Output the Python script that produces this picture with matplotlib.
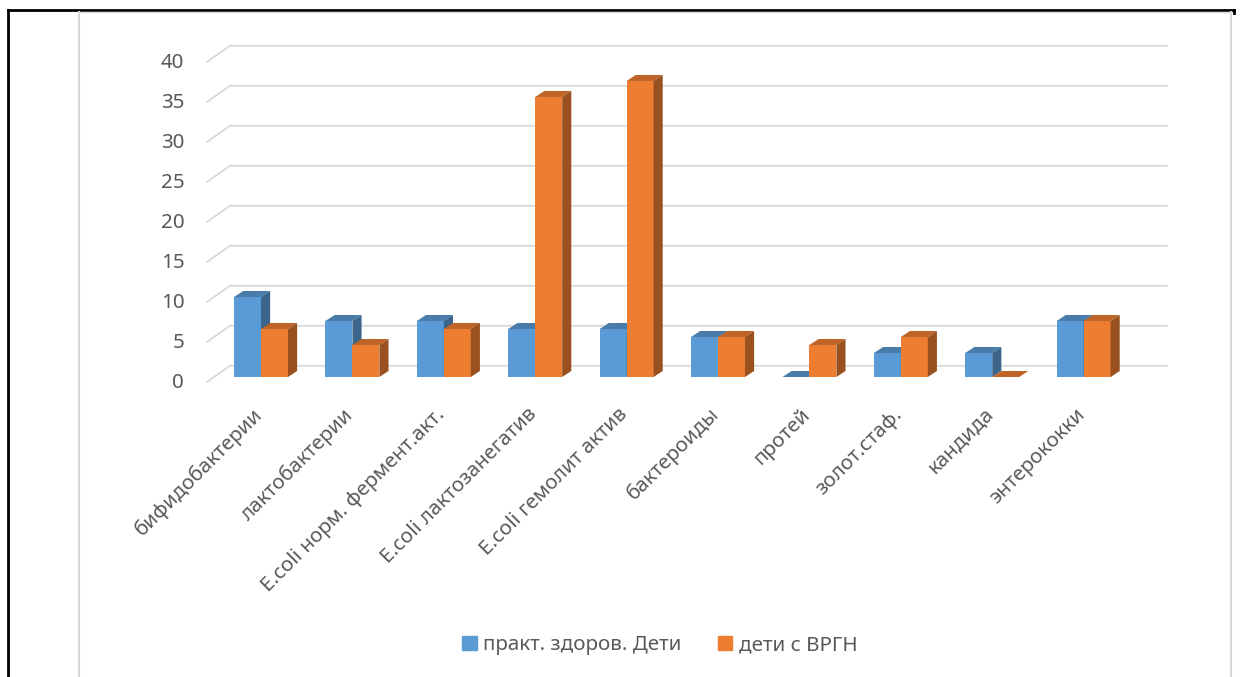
import numpy as np
import matplotlib as mpl
import matplotlib.pyplot as plt
from matplotlib.patches import Polygon, Patch
from matplotlib.lines import Line2D

mpl.rcParams['font.family'] = ['Noto Sans', 'DejaVu Sans']
mpl.rcParams['font.size'] = 14.8

categories = ['бифидобактерии', 'лактобактерии', 'E.coli норм. фермент.акт.',
              'E.coli лактозанегатив', 'E.coli гемолит актив', 'бактероиды',
              'протей', 'золот.стаф.', 'кандида', 'энтерококки']
healthy = [10, 7, 7, 6, 6, 5, 0, 3, 3, 7]
vrgn = [6, 4, 6, 35, 37, 5, 4, 5, 0, 7]
series_names = ['практ. здоров. Дети', 'дети с ВРГН']
yticks = [0, 5, 10, 15, 20, 25, 30, 35, 40]

blue = '#5B9BD5'
orange = '#ED7D31'
txt = '#595959'


def shade(c, f):
    r, g, b = mpl.colors.to_rgb(c)
    return (r * f, g * f, b * f)


fig = plt.figure(figsize=(12.4, 6.77), dpi=100)
ax = fig.add_axes([0.1589, 0.4254, 0.7887, 0.5259])
ax.set_xlim(-0.7, 10.0)
ax.set_ylim(-1.5, 43)
ax.axis('off')

# fake 3d: depth offsets in data units
dx, dy = 0.1, 0.75
back = 1.4
w = 0.295

# gridlines on back wall + side wall diagonals
for v in yticks:
    ax.plot([-0.59, -0.34, 9.91], [v - 0.6, v + back, v + back],
            color='#D9D9D9', lw=1.3, zorder=1)
    ax.text(-0.84, v - 0.8, str(v), ha='right', va='center', color=txt)

x = np.arange(len(categories))


def bar3d(x0, h, col):
    ax.bar(x0, h, width=w, align='edge', color=col, zorder=3, lw=0)
    top = [(x0, h), (x0 + w, h), (x0 + w + dx, h + dy), (x0 + dx, h + dy)]
    side = [(x0 + w, 0), (x0 + w + dx, dy), (x0 + w + dx, h + dy), (x0 + w, h)]
    ax.add_patch(Polygon(top, closed=True, color=shade(col, 0.8), lw=0, zorder=3))
    ax.add_patch(Polygon(side, closed=True, color=shade(col, 0.65), lw=0, zorder=3))


for i in x:
    bar3d(i - w, healthy[i], blue)
    bar3d(i, vrgn[i], orange)

for i, lab in zip(x, categories):
    ax.text(i - 0.02, -4.3, lab, rotation=45, rotation_mode='anchor',
            ha='right', va='center', color=txt)

handles = [Patch(color=blue), Patch(color=orange)]
fig.legend(handles, series_names, loc='center', bbox_to_anchor=(0.532, 0.047),
           ncol=2, frameon=False, handlelength=0.7, handleheight=0.7,
           handletextpad=0.3, columnspacing=1.8, labelcolor=txt)

# page frame and chart border
H = 677.0
fig.add_artist(Line2D([8 / 1240, 1234 / 1240], [1 - 10 / H, 1 - 10 / H], color='black', lw=2))
fig.add_artist(Line2D([8 / 1240, 8 / 1240], [0, 1 - 10 / H], color='black', lw=2))
fig.add_artist(Line2D([1234 / 1240, 1234 / 1240], [1 - 13 / H, 1 - 10 / H], color='black', lw=2))
fig.add_artist(Line2D([79 / 1240, 79 / 1240], [0, 1 - 12 / H], color='#D9D9D9', lw=1.5))
fig.add_artist(Line2D([1231 / 1240, 1231 / 1240], [0, 1 - 12 / H], color='#D9D9D9', lw=1.5))
fig.add_artist(Line2D([79 / 1240, 1231 / 1240], [1 - 12 / H, 1 - 12 / H], color='#D9D9D9', lw=1.0))

fig.savefig('out.png', dpi=100)
